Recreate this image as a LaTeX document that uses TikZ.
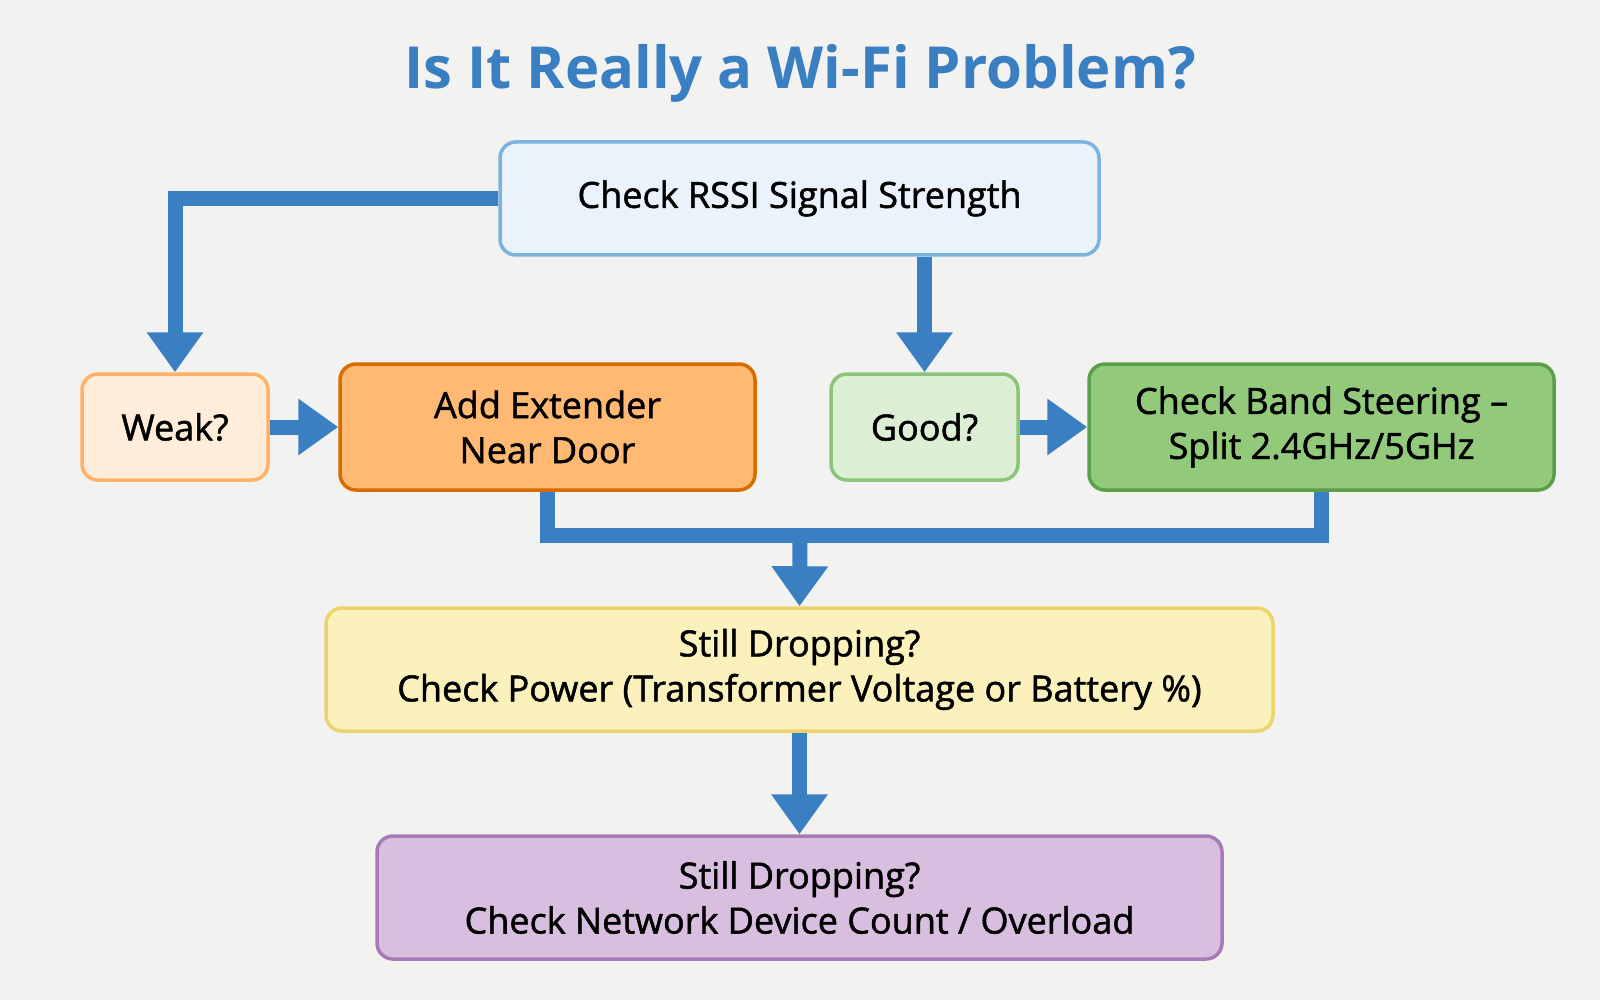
\documentclass[tikz,border=0pt]{standalone}
\usepackage{fontspec}
\setmainfont{Open Sans}
\newfontfamily\medfont[FakeBold=1.4]{Open Sans}
\usetikzlibrary{arrows.meta}
\definecolor{bg}{HTML}{F2F2F1}
\definecolor{ttl}{HTML}{3A7FC1}
\definecolor{arr}{HTML}{3A7FC1}
\definecolor{rssif}{HTML}{EAF3FB}
\definecolor{rssid}{HTML}{7AB3E0}
\definecolor{goodf}{HTML}{DCEFD5}
\definecolor{goodd}{HTML}{8CC47A}
\definecolor{bandf}{HTML}{92C97B}
\definecolor{bandd}{HTML}{5A9E48}
\definecolor{powf}{HTML}{FBF1BD}
\definecolor{powd}{HTML}{ECD36A}
\definecolor{netf}{HTML}{D9BFDF}
\definecolor{netd}{HTML}{A77AB7}
\tikzset{
 box/.style={draw, line width=3.5pt, rounded corners=16pt, align=center, font=\medfont\fontsize{36}{45}\selectfont, text=black},
 conn/.style={draw=arr, line width=15pt},
 arrw/.style={conn, -{Triangle[width=54pt 0 0,length=40pt 0 0]}},
}
\begin{document}
\begin{tikzpicture}[x=1pt,y=-1pt]
\fill[bg] (0,0) rectangle (1600,1000);
\useasboundingbox (0,0) rectangle (1600,1000);
\node[font=\fontsize{58}{62}\selectfont\bfseries, text=ttl] (title) at (800,73) {Is It Really a Wi-Fi Problem?};
\node[box, fill=rssif, draw=rssid, minimum width=599pt, minimum height=113pt] (rssi) at (799.5,198.5) {Check RSSI Signal Strength};
\node[box, fill=orange!15, draw=orange!60, minimum width=186pt, minimum height=106pt] (weak) at (175,427) {Weak?};
\node[box, fill=orange!55, draw=orange!85!black, minimum width=415pt, minimum height=126pt] (ext) at (547.5,427) {Add Extender\\Near Door};
\node[box, fill=goodf, draw=goodd, minimum width=187pt, minimum height=106pt] (good) at (924.5,427) {Good?};
\node[box, fill=bandf, draw=bandd, minimum width=465pt, minimum height=126pt] (band) at (1321.5,427) {Check Band Steering –\\Split 2.4GHz/5GHz};
\node[box, fill=powf, draw=powd, minimum width=947pt, minimum height=123pt] (pow) at (799.5,669.5) {Still Dropping?\\Check Power (Transformer Voltage or Battery \%)};
\node[box, fill=netf, draw=netd, minimum width=845pt, minimum height=123pt] (net) at (799.5,897.5) {Still Dropping?\\Check Network Device Count / Overload};
\coordinate (j) at (800,535);
\draw[arrw] (rssi.west) -| (weak.north);
\draw[arrw] (rssi.south -| good.north) -- (good.north);
\draw[arrw] (weak) -- (ext);
\draw[arrw] (good) -- (band);
\draw[conn] (ext.south) |- (j) -| (band.south);
\draw[arrw] (j) -- (pow.north);
\draw[arrw] (pow) -- (net);
\end{tikzpicture}
\end{document}
